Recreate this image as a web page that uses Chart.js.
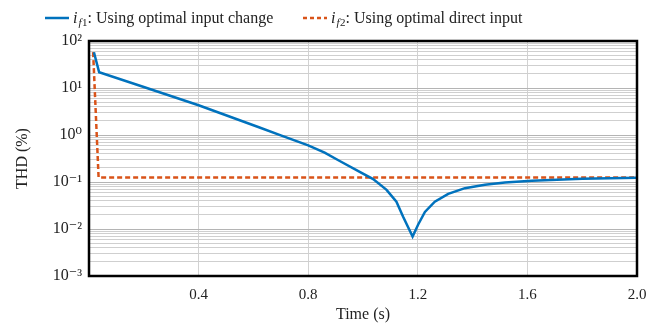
<!DOCTYPE html>
<html>
<head>
<meta charset="utf-8">
<script src="https://cdn.jsdelivr.net/npm/chart.js@4.4.1/dist/chart.umd.min.js"></script>
<style>
  body { margin: 0; background: #fff; }
</style>
</head>
<body>
<canvas id="thd" width="667" height="327"></canvas>
<script>
// i_f1: optimal input change
const timeF1 = [0.018, 0.037, 0.2, 0.4, 0.62, 0.7, 0.8, 0.86, 0.915, 0.988, 1.037, 1.086, 1.122, 1.146, 1.181, 1.201, 1.226, 1.262, 1.311, 1.372, 1.445, 1.518, 1.616, 1.8, 2.0];
const thdF1 = [57.5, 21.6, 10.5, 4.3, 1.46, 0.98, 0.6, 0.42, 0.28, 0.165, 0.115, 0.068, 0.038, 0.0184, 0.0069, 0.0123, 0.023, 0.038, 0.056, 0.074, 0.087, 0.098, 0.106, 0.117, 0.123];
// i_f2: optimal direct input
const timeF2 = [0.015, 0.035, 2.0];
const thdF2 = [58, 0.125, 0.125];

const xTicks = [0.4, 0.8, 1.2, 1.6, 2.0];
const yDecades = [-3, -2, -1, 0, 1, 2];

const FONT = "'Liberation Serif', 'DejaVu Serif', serif";
const BLUE = "#0072BD";
const ORANGE = "#D95319";

const sup = { "-": "\u207B", "0": "\u2070", "1": "\u00B9", "2": "\u00B2", "3": "\u00B3" };
function decadeLabel(e) {
  return "10" + String(e).split("").map(c => sup[c]).join("");
}
function isDecade(v) {
  const l = Math.log10(v);
  return Math.abs(l - Math.round(l)) < 1e-9;
}

const frame = {
  id: "frame",
  afterDraw(chart) {
    const { ctx, chartArea: a } = chart;
    ctx.save();
    ctx.strokeStyle = "#000";
    ctx.lineWidth = 2.5;
    ctx.strokeRect(a.left, a.top, a.right - a.left, a.bottom - a.top);
    ctx.restore();
  }
};

// legend with italic i and subscript, like the latex original
const mathLegend = {
  id: "mathLegend",
  afterDraw(chart) {
    const ctx = chart.ctx;
    const items = [
      { x: 45, color: BLUE, dash: [], sub: "f", num: "1", text: ": Using optimal input change" },
      { x: 303, color: ORANGE, dash: [4, 3], sub: "f", num: "2", text: ": Using optimal direct input" }
    ];
    const y = 18;
    ctx.save();
    items.forEach(it => {
      ctx.strokeStyle = it.color;
      ctx.lineWidth = 2.5;
      ctx.setLineDash(it.dash);
      ctx.beginPath();
      ctx.moveTo(it.x, y);
      ctx.lineTo(it.x + 24, y);
      ctx.stroke();
      ctx.setLineDash([]);
      ctx.fillStyle = "#222";
      ctx.textBaseline = "alphabetic";
      let tx = it.x + 28;
      ctx.font = "italic 16px " + FONT;
      ctx.fillText("i", tx, y + 5);
      tx += ctx.measureText("i").width + 1;
      ctx.font = "italic 11px " + FONT;
      ctx.fillText(it.sub, tx, y + 8);
      tx += ctx.measureText(it.sub).width + 0.5;
      ctx.font = "11px " + FONT;
      ctx.fillText(it.num, tx, y + 8);
      tx += ctx.measureText(it.num).width;
      ctx.font = "16px " + FONT;
      ctx.fillText(it.text, tx, y + 5);
    });
    ctx.restore();
  }
};

new Chart(document.getElementById("thd"), {
  type: "line",
  data: {
    datasets: [
      {
        label: "i_f1: Using optimal input change",
        data: timeF1.map((t, i) => ({ x: t, y: thdF1[i] })),
        borderColor: BLUE,
        borderWidth: 2.5,
        pointRadius: 0,
        tension: 0,
      },
      {
        label: "i_f2: Using optimal direct input",
        data: timeF2.map((t, i) => ({ x: t, y: thdF2[i] })),
        borderColor: ORANGE,
        borderWidth: 2.5,
        borderDash: [5, 3],
        pointRadius: 0,
        tension: 0,
      },
    ],
  },
  options: {
    responsive: false,
    animation: false,
    devicePixelRatio: 1,
    layout: {
      padding: { top: 41, right: 30, left: 0, bottom: 0 },
    },
    plugins: {
      legend: { display: false },
      tooltip: { enabled: false },
    },
    scales: {
      x: {
        type: "linear",
        min: 0,
        max: 2,
        afterBuildTicks: (scale) => {
          scale.ticks = xTicks.map(v => ({ value: v }));
        },
        afterFit: (scale) => { scale.height = 51; },
        ticks: {
          color: "#222",
          padding: 10,
          font: { family: FONT, size: 15 },
          callback: (v) => Number(v).toFixed(1),
        },
        grid: { color: "#d2d2d2", lineWidth: 1, drawTicks: false },
        border: { display: false },
        title: {
          display: true,
          text: "Time (s)",
          color: "#222",
          font: { family: FONT, size: 16 },
          padding: { top: 4, bottom: 3 },
        },
      },
      y: {
        type: "logarithmic",
        min: 1e-3,
        max: 1e2,
        afterBuildTicks: (scale) => {
          const t = [];
          for (let e = -3; e <= 2; e++) {
            for (let m = 1; m <= 9; m++) {
              const v = m * Math.pow(10, e);
              if (v <= 100.0001) t.push({ value: v });
            }
          }
          scale.ticks = t;
        },
        afterFit: (scale) => { scale.width = 89; },
        ticks: {
          autoSkip: false,
          color: "#222",
          padding: 7,
          font: { family: FONT, size: 16 },
          callback: (v) => {
            if (!isDecade(v)) return "";
            const e = Math.round(Math.log10(v));
            return yDecades.includes(e) ? decadeLabel(e) : "";
          },
        },
        grid: {
          drawTicks: false,
          lineWidth: 1,
          color: (c) => (c.tick && isDecade(c.tick.value) ? "#b4b4b4" : "#cfcfcf"),
        },
        border: { display: false },
        title: {
          display: true,
          text: "THD (%)",
          color: "#222",
          font: { family: FONT, size: 16 },
          padding: { top: 13, bottom: 4 },
        },
      },
    },
  },
  plugins: [frame, mathLegend],
});
</script>
</body>
</html>
